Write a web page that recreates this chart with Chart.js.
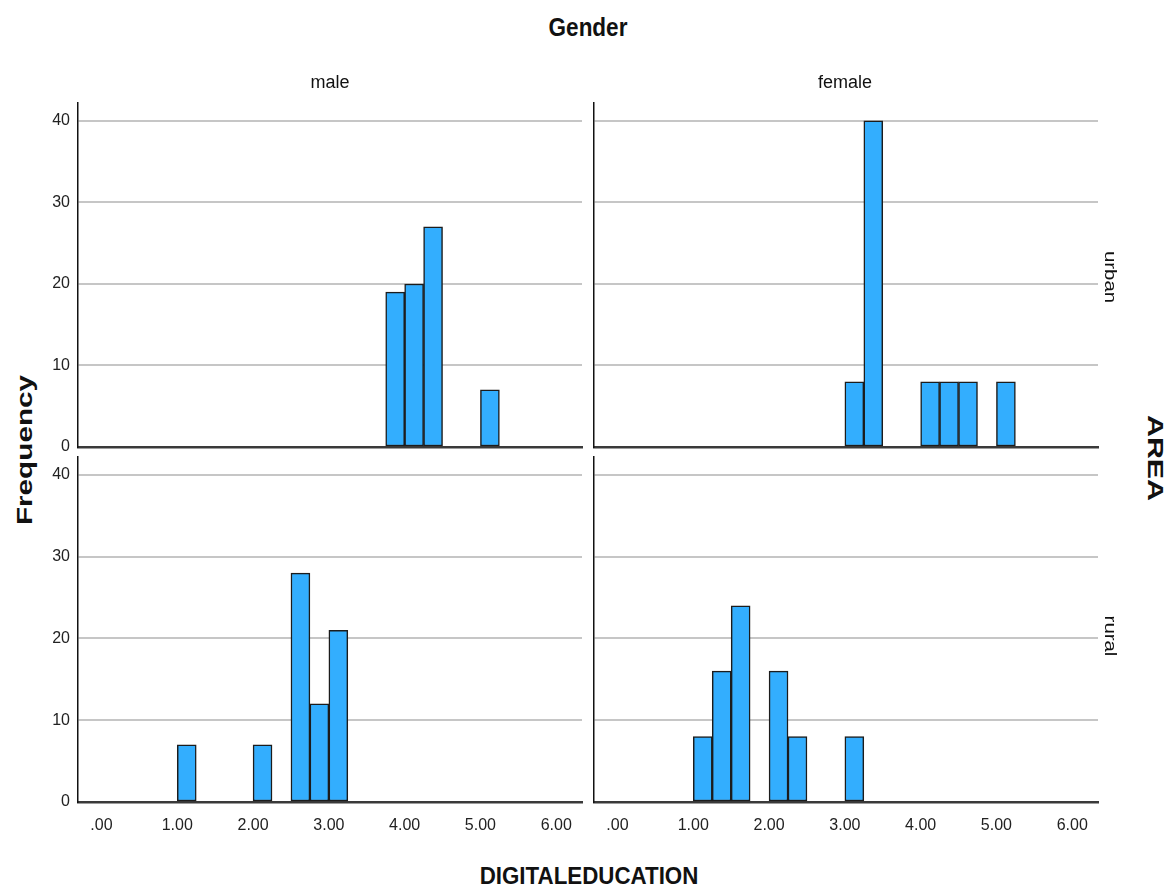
<!DOCTYPE html>
<html>
<head>
<meta charset="utf-8">
<script src="https://cdn.jsdelivr.net/npm/chart.js@4.4.1/dist/chart.umd.min.js"></script>
<style>
  html, body { margin: 0; padding: 0; background: #ffffff; }
  body { width: 1172px; height: 889px; position: relative; overflow: hidden; }
  canvas { position: absolute; }
  .lbl { position: absolute; white-space: nowrap; line-height: 1; color: #111; }
</style>
</head>
<body>
<canvas id="tl"></canvas>
<canvas id="tr"></canvas>
<canvas id="bl"></canvas>
<canvas id="br"></canvas>

<div class="lbl" id="tGender">Gender</div>
<div class="lbl" id="tMale">male</div>
<div class="lbl" id="tFemale">female</div>
<div class="lbl" id="tUrban">urban</div>
<div class="lbl" id="tRural">rural</div>
<div class="lbl" id="tArea">AREA</div>
<div class="lbl" id="tFreq">Frequency</div>
<div class="lbl" id="tX">DIGITALEDUCATION</div>

<script>
// ---------------- DATA ----------------
const xTickLabels = ['.00', '1.00', '2.00', '3.00', '4.00', '5.00', '6.00'];
const yTickLabels = ['0', '10', '20', '30', '40'];
const binWidth = 0.25;

const maleUrbanBinStart   = [3.75, 4.00, 4.25, 5.00];
const maleUrbanFreq       = [19, 20, 27, 7];

const femaleUrbanBinStart = [3.00, 3.25, 4.00, 4.25, 4.50, 5.00];
const femaleUrbanFreq     = [8, 40, 8, 8, 8, 8];

const maleRuralBinStart   = [1.00, 2.00, 2.50, 2.75, 3.00];
const maleRuralFreq       = [7, 7, 28, 12, 21];

const femaleRuralBinStart = [1.00, 1.25, 1.50, 2.00, 2.25, 3.00];
const femaleRuralFreq     = [8, 16, 24, 16, 8, 8];

// ---------------- STYLE / LAYOUT ----------------
const BAR_FILL = '#33aefe';
const BAR_EDGE = '#1c1c1c';
const GRID = '#c6c6c6';
const TICK_FONT = { family: "'Liberation Sans', Arial, sans-serif", size: 16 };

function place(id, left, top, w, h) {
  const c = document.getElementById(id);
  c.width = w; c.height = h;
  c.style.left = left + 'px'; c.style.top = top + 'px';
  c.style.width = w + 'px'; c.style.height = h + 'px';
  return c;
}

function makePanel(id, left, top, w, h, starts, freqs, showY, showX) {
  const canvas = place(id, left, top, w, h);
  const pts = starts.map((s, i) => ({ x: s + binWidth / 2, y: freqs[i] }));
  return new Chart(canvas.getContext('2d'), {
    type: 'bar',
    data: {
      datasets: [{
        data: pts,
        backgroundColor: BAR_FILL,
        borderColor: BAR_EDGE,
        borderWidth: 1.5,
        borderSkipped: false,
        categoryPercentage: 1.0,
        barPercentage: 1.0
      }]
    },
    options: {
      responsive: false,
      maintainAspectRatio: false,
      animation: false,
      devicePixelRatio: 1,
      layout: { padding: { top: 22, right: 8, left: 0, bottom: showX ? 0 : 16 } },
      plugins: { legend: { display: false }, tooltip: { enabled: false }, title: { display: false } },
      scales: {
        x: {
          type: 'linear',
          min: -0.31,
          max: 6.34,
          offset: false,
          grid: { display: false, drawTicks: false },
          border: { display: true, color: '#3a3a3a', width: 2.5 },
          ticks: {
            display: showX,
            stepSize: 1,
            includeBounds: false,
            autoSkip: false,
            maxRotation: 0,
            padding: 14,
            color: '#222',
            font: TICK_FONT,
            callback: (v) => xTickLabels[Math.round(v)]
          },
          afterFit: (s) => { s.height = showX ? 50 : 4; }
        },
        y: {
          type: 'linear',
          min: 0,
          max: 42.2,
          grid: {
            display: true,
            drawTicks: false,
            lineWidth: 2,
            color: (ctx) => (ctx.tick && ctx.tick.value === 0) ? 'rgba(0,0,0,0)' : GRID
          },
          border: { display: true, color: '#111', width: 1.5 },
          ticks: {
            display: showY,
            stepSize: 10,
            includeBounds: false,
            padding: 8,
            color: '#222',
            font: TICK_FONT,
            callback: (v) => yTickLabels[Math.round(v / 10)]
          },
          afterFit: (s) => { s.width = showY ? 38 : 4; }
        }
      }
    }
  });
}

makePanel('tl', 40, 81, 550, 386, maleUrbanBinStart, maleUrbanFreq, true, false);
makePanel('tr', 590, 81, 516, 386, femaleUrbanBinStart, femaleUrbanFreq, false, false);
makePanel('bl', 40, 435, 550, 417, maleRuralBinStart, maleRuralFreq, true, true);
makePanel('br', 590, 435, 516, 417, femaleRuralBinStart, femaleRuralFreq, false, true);

// ---------------- TEXT ----------------
function setText(id, cx, cy, font, transform) {
  const el = document.getElementById(id);
  el.style.font = font;
  el.style.left = cx + 'px';
  el.style.top = cy + 'px';
  el.style.transform = 'translate(-50%, -50%) ' + (transform || '');
}
const SANS = "'Liberation Sans', Arial, sans-serif";
setText('tGender', 588, 27, 'bold 25px ' + SANS, 'scaleX(0.9)');
setText('tMale', 330, 82, '18px ' + SANS, '');
setText('tFemale', 845, 82, '18px ' + SANS, '');
setText('tUrban', 1110, 277, '17px ' + SANS, 'rotate(90deg) scaleX(1.2)');
setText('tRural', 1110, 636, '17px ' + SANS, 'rotate(90deg) scaleX(1.2)');
setText('tArea', 1155, 458, 'bold 22px ' + SANS, 'rotate(90deg) scaleX(1.38)');
setText('tFreq', 25, 450, 'bold 22px ' + SANS, 'rotate(-90deg) scaleX(1.35)');
setText('tX', 589, 876, 'bold 24px ' + SANS, 'scaleX(0.93)');
</script>
</body>
</html>
